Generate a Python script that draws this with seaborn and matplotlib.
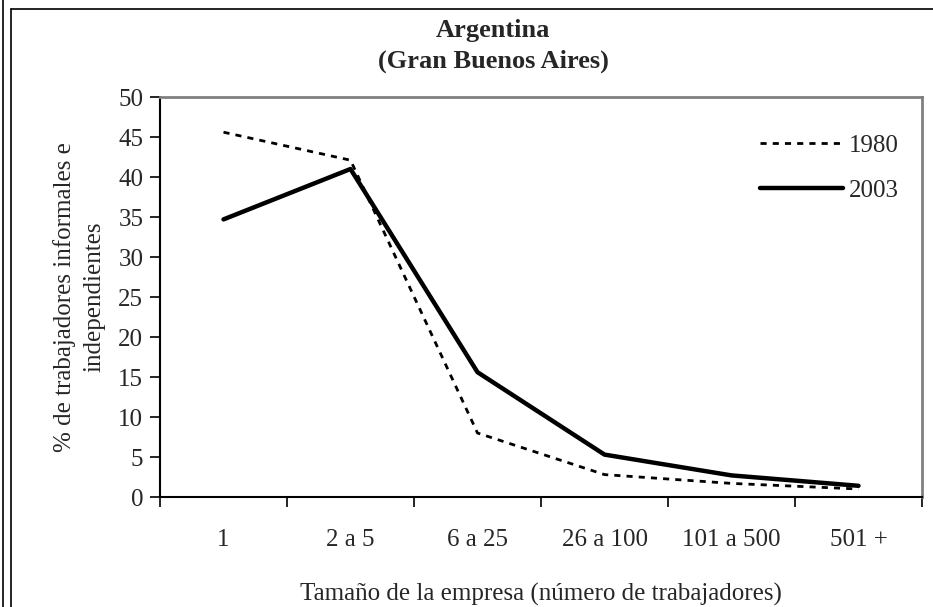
import matplotlib
matplotlib.use("Agg")
import matplotlib.pyplot as plt
import seaborn as sns
import pandas as pd
from matplotlib.lines import Line2D

categories = ["1", "2 a 5", "6 a 25", "26 a 100", "101 a 500", "501 +"]
values_1980 = [45.6, 42.1, 8.0, 2.8, 1.7, 1.0]
values_2003 = [34.7, 41.0, 15.6, 5.3, 2.7, 1.4]
y_ticks = [0, 5, 10, 15, 20, 25, 30, 35, 40, 45, 50]

sns.set_theme(style="white")
plt.rcParams['font.family'] = ['Liberation Serif', 'DejaVu Serif']

FS = 18

df = pd.DataFrame({
    "pos": list(range(len(categories))) * 2,
    "valor": values_1980 + values_2003,
    "serie": ["1980"] * len(categories) + ["2003"] * len(categories),
})

fig = plt.figure(figsize=(9.33, 6.07), dpi=100)
W, H = 933, 607
ax = fig.add_axes([160 / W, 1 - 497 / H, (922 - 160) / W, (497 - 97) / H])

dot_style = (0, (2.2, 2.2))
sns.lineplot(data=df[df.serie == "1980"], x="pos", y="valor", ax=ax,
             color="black", linewidth=2.0, linestyle=dot_style, legend=False)
sns.lineplot(data=df[df.serie == "2003"], x="pos", y="valor", ax=ax,
             color="black", linewidth=3.2, legend=False)

ax.set_xlim(-0.5, len(categories) - 0.5)
ax.set_ylim(0, 50)
ax.set_yticks(y_ticks)
ax.set_xticks(range(len(categories)))
ax.set_xticklabels(categories)
ax.set_xticks([i - 0.5 for i in range(len(categories) + 1)], minor=True)
ax.tick_params(axis="x", which="major", length=0, pad=23, labelsize=FS)
ax.tick_params(axis="x", which="minor", length=7, width=1.2, color="black", direction="out", bottom=True)
ax.tick_params(axis="y", which="major", length=7, width=1.2, color="black", direction="out", left=True,
               labelsize=FS, pad=5)

for s in ["left", "bottom"]:
    ax.spines[s].set_color("black")
    ax.spines[s].set_linewidth(1.5)
for s in ["top", "right"]:
    ax.spines[s].set_color("#808080")
    ax.spines[s].set_linewidth(2)

ax.set_xlabel("Tamaño de la empresa (número de trabajadores)", fontsize=FS, labelpad=23)
ax.set_ylabel("% de trabajadores informales e\nindependientes", fontsize=FS, labelpad=9,
              linespacing=1.45)

fig.text(493 / W, 1 - 30 / H, "Argentina", ha="center", va="center",
         fontsize=19, fontweight="bold")
fig.text(493 / W, 1 - 61 / H, "(Gran Buenos Aires)", ha="center", va="center",
         fontsize=19, fontweight="bold")

handles = [Line2D([0], [0], color="black", linewidth=2.0, linestyle=dot_style),
           Line2D([0], [0], color="black", linewidth=3.2)]
ax.legend(handles, ["1980", "2003"], loc="upper left",
          bbox_to_anchor=((760 - 160) / 762, 0.907),
          borderaxespad=0, borderpad=0,
          frameon=False, fontsize=FS, handlelength=3.3, handletextpad=0.25,
          labelspacing=0.9)

# outer frame
fig.add_artist(Line2D([2.5 / W, 2.5 / W], [0, 1], transform=fig.transFigure,
                      color="black", linewidth=1.2))
fig.add_artist(Line2D([11 / W, 11 / W], [0, 1 - 9 / H], transform=fig.transFigure,
                      color="black", linewidth=1.2))
fig.add_artist(Line2D([11 / W, 1], [1 - 9 / H, 1 - 9 / H], transform=fig.transFigure,
                      color="black", linewidth=1.2))

fig.savefig("out.png", dpi=100)
